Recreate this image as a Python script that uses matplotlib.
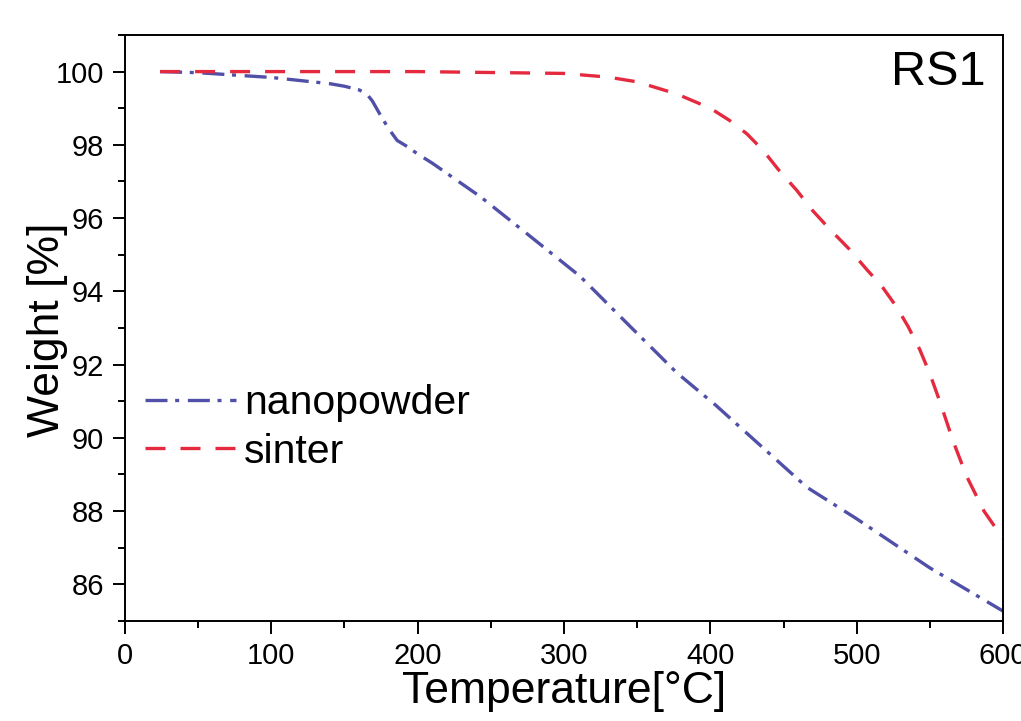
import matplotlib
matplotlib.use("Agg")
from matplotlib import pyplot as plt
from matplotlib.ticker import MultipleLocator

# Данные
temp_nano = [24, 50, 100, 140, 150, 160, 165, 169, 174, 180, 186, 193, 200, 210, 243, 277,
             311, 345, 377, 404, 434, 466, 500, 550, 600]
weight_nano = [100.0, 99.97, 99.84, 99.67, 99.6, 99.5, 99.4, 99.2, 98.85, 98.45, 98.12,
               97.95, 97.75, 97.5, 96.58, 95.5, 94.41, 93.05, 91.78, 90.88, 89.8, 88.65,
               87.79, 86.45, 85.27]

temp_sinter = [24, 100, 200, 300, 330, 350, 377, 400, 413, 425, 436, 447, 459, 470, 482,
               495, 507, 517, 527, 535, 543, 550, 557, 566, 575, 587, 600]
weight_sinter = [100.0, 100.0, 100.0, 99.95, 99.85, 99.72, 99.39, 99.0, 98.67, 98.3,
                 97.85, 97.3, 96.76, 96.2, 95.68, 95.15, 94.59, 94.15, 93.59, 93.05, 92.42,
                 91.75, 90.97, 89.9, 88.96, 88.0, 87.25]

plt.rcParams['font.family'] = ['Liberation Sans', 'DejaVu Sans']

fig = plt.figure(figsize=(10.21, 7.21), dpi=100)
ax = fig.add_axes([0.1224, 0.1387, 0.86, 0.8128])

ax.plot(temp_nano, weight_nano, color='#5050A8', lw=2.4,
        linestyle=(0, (6.6, 2.3, 1.2, 2.6)), label='nanopowder')
ax.plot(temp_sinter, weight_sinter, color='#E52A3F', lw=2.4,
        linestyle=(0, (6, 4.5)), label='sinter')

ax.set_xlim(0, 600)
ax.set_ylim(85, 101)
ax.xaxis.set_major_locator(MultipleLocator(100))
ax.xaxis.set_minor_locator(MultipleLocator(50))
ax.yaxis.set_major_locator(MultipleLocator(2))
ax.yaxis.set_minor_locator(MultipleLocator(1))
ax.tick_params(which='both', direction='out', top=False, right=False, width=1.4)
ax.tick_params(which='major', length=9, labelsize=21, pad=6)
ax.tick_params(which='minor', length=5)
for sp in ax.spines.values():
    sp.set_linewidth(1.4)

ax.set_xlabel('Temperature[°C]', fontsize=32)
ax.set_ylabel('Weight [%]', fontsize=32)
ax.xaxis.set_label_coords(0.5, -0.085)
ax.yaxis.set_label_coords(-0.065, 0.497)

ax.text(0.98, 0.975, 'RS1', transform=ax.transAxes, ha='right', va='top', fontsize=35)

ax.legend(loc='center left', bbox_to_anchor=(0, 0.33), frameon=False, fontsize=29.5,
          handlelength=2.2, handletextpad=0.2, borderpad=0.5, borderaxespad=0,
          labelspacing=0.25)

fig.savefig('out.png', dpi=100)
